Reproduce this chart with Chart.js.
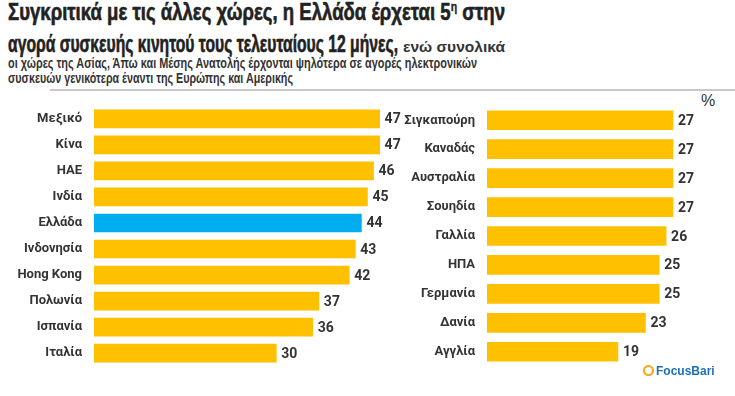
<!DOCTYPE html>
<html>
<head>
<meta charset="utf-8">
<script src="https://cdn.jsdelivr.net/npm/chart.js@4/dist/chart.umd.min.js"></script>
<style>
    body { margin: 0; background: #fff; width: 735px; height: 396px; position: relative; overflow: hidden;
           font-family: "Liberation Sans", Arial, sans-serif; color: #222; }
    .line { position: absolute; white-space: nowrap; font-weight: bold; transform-origin: 0 0; }
    .big { font-size: 23px; line-height: 23px; -webkit-text-stroke: 0.6px #222; }
    .big .sup { font-size: 13px; position: relative; top: -9px; -webkit-text-stroke: 0.3px #222; }
    .small { font-size: 14px; line-height: 14px; color: #333; }
    #rule { position: absolute; left: 50px; right: 0; top: 89px; height: 2px; background: #c8c8c8; }
    #pct { position: absolute; left: 701px; top: 92px; font-size: 16px; color: #333; }
    canvas { position: absolute; }
    #left { left: 0; top: 86px; }
    #right { left: 395px; top: 86px; }
    #logo { position: absolute; left: 643px; top: 364px; font-weight: bold; font-size: 12px; color: #1f6fb6; }
    #logo span { display: inline-block; width: 7px; height: 7px; border: 2px solid #f4a81d; border-radius: 50%; margin-right: 2px; vertical-align: -1px; }
</style>
</head>
<body>
<div class="line big" id="t1" style="left:8px; top:1px">Συγκριτικά με τις άλλες χώρες, η Ελλάδα έρχεται 5<span class="sup">η</span> στην</div>
<div class="line big" id="t2" style="left:8px; top:33px">αγορά συσκευής κινητού τους τελευταίους 12 μήνες,</div>
<div class="line small" id="t3" style="left:403px; top:40px">ενώ συνολικά</div>
<div class="line small" id="s1" style="left:8px; top:56px">οι χώρες της Ασίας, Άπω και Μέσης Ανατολής έρχονται ψηλότερα σε αγορές ηλεκτρονικών</div>
<div class="line small" id="s2" style="left:8px; top:71px">συσκευών γενικότερα έναντι της Ευρώπης και Αμερικής</div>
<div id="rule"></div>
<div id="pct">%</div>
<canvas id="left" width="410" height="300"></canvas>
<canvas id="right" width="340" height="300"></canvas>
<div id="logo"><span></span>FocusBari</div>

<script>
// data
const leftCountries = ['Μεξικό', 'Κίνα', 'ΗΑΕ', 'Ινδία', 'Ελλάδα', 'Ινδονησία', 'Hong Kong', 'Πολωνία', 'Ισπανία', 'Ιταλία'];
const leftValues = [47, 47, 46, 45, 44, 43, 42, 37, 36, 30];
const rightCountries = ['Σιγκαπούρη', 'Καναδάς', 'Αυστραλία', 'Σουηδία', 'Γαλλία', 'ΗΠΑ', 'Γερμανία', 'Δανία', 'Αγγλία'];
const rightValues = [27, 27, 27, 27, 26, 25, 25, 23, 19];
const highlight = 'Ελλάδα';

const FONT = 'Roboto, "Liberation Sans", sans-serif';

// the original uses a condensed face, squeeze each text line to the same width
function squeeze(id, target) {
    const el = document.getElementById(id);
    const w = el.getBoundingClientRect().width;
    el.style.transform = 'scaleX(' + (target / w) + ')';
}
squeeze('t1', 497);
squeeze('t2', 390);
squeeze('t3', 102);
squeeze('s1', 469);
squeeze('s2', 285);

// draws the number just past the end of each bar
const valueLabels = {
    id: 'valueLabels',
    afterDatasetsDraw(chart) {
        const ctx = chart.ctx;
        ctx.save();
        ctx.font = 'bold 14px ' + FONT;
        ctx.fillStyle = '#333';
        ctx.textBaseline = 'middle';
        chart.getDatasetMeta(0).data.forEach((bar, i) => {
            ctx.fillText(chart.data.datasets[0].data[i], bar.x + 5, bar.y + 1);
        });
        ctx.restore();
    }
};

function makeChart(id, labels, values, max, axisWidth, thickness) {
    const chart = new Chart(document.getElementById(id), {
        type: 'bar',
        data: {
            labels: labels,
            datasets: [{
                data: values,
                backgroundColor: labels.map(l => l === highlight ? '#00AEEF' : '#FFC000'),
                barThickness: thickness
            }]
        },
        options: {
            indexAxis: 'y',
            responsive: false,
            animation: false,
            layout: { padding: 0 },
            plugins: { legend: { display: false }, tooltip: { enabled: false } },
            scales: {
                x: { display: false, min: 0, max: max },
                y: {
                    grid: { display: false, drawTicks: false },
                    border: { display: false },
                    ticks: { color: '#333', padding: 12, font: { family: FONT, size: 13, weight: 'bold' } },
                    afterFit(scale) { scale.width = axisWidth; }
                }
            }
        },
        plugins: [valueLabels]
    });
    // the y axis adds some space above the first bar, shift so the plot starts at y=106
    chart.canvas.style.top = (106 - chart.chartArea.top) + 'px';
    return chart;
}

makeChart('left', leftCountries, leftValues, 52, 94, 18);
makeChart('right', rightCountries, rightValues, 36, 92, 19);
</script>
</body>
</html>
